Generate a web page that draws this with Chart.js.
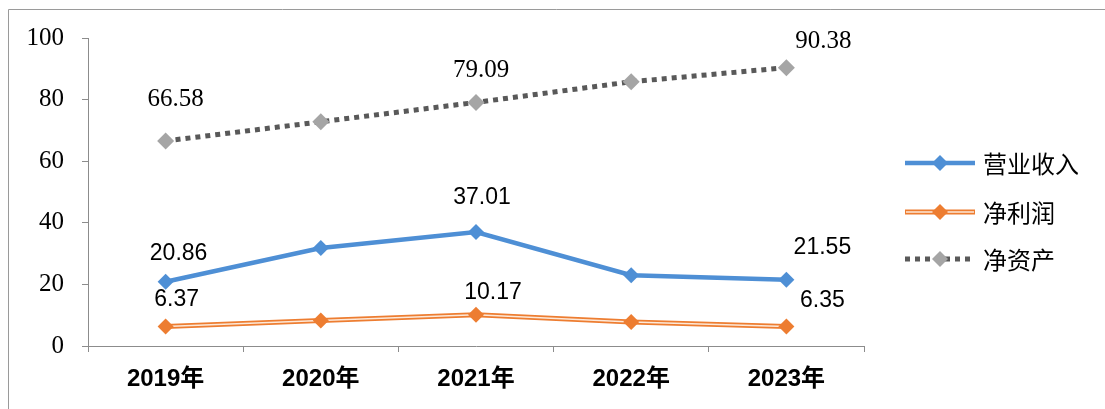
<!DOCTYPE html>
<html>
<head>
<meta charset="utf-8">
<script src="https://cdn.jsdelivr.net/npm/chart.js@4"></script>
<style>
  html, body { margin: 0; padding: 0; background: #fff; }
  canvas { display: block; }
</style>
</head>
<body>
<canvas id="finChart" width="1105" height="409"></canvas>
<script>
// categories and series
const years = ['2019年', '2020年', '2021年', '2022年', '2023年'];
const revenue = [20.86, 31.8, 37.01, 23.0, 21.55];   // 营业收入
const netProfit = [6.37, 8.3, 10.17, 7.8, 6.35];     // 净利润
const netAssets = [66.58, 72.8, 79.09, 85.8, 90.38]; // 净资产
const yTicks = [0, 20, 40, 60, 80, 100];
const labeledPoints = [0, 2, 4];

const BLUE = '#4e8fd5';
const ORANGE = '#ed7d31';
const GRAY_LINE = '#595959';
const GRAY_MARK = '#a5a5a5';
const SANS = '"Liberation Sans", "Noto Sans CJK SC", sans-serif';
const SERIF = '"Liberation Serif", "DejaVu Serif", serif';

// value labels, offsets are pixel nudges from each point
const valueLabels = [
    { data: netAssets, ds: 4, font: '25px ' + SERIF, offsets: [[10, -41], [0, 0], [5, -32], [0, 0], [37, -26]] },
    { data: revenue, ds: 0, font: '23px ' + SANS, offsets: [[13, -28], [0, 0], [6, -34], [0, 0], [36, -32]] },
    { data: netProfit, ds: 3, font: '23px ' + SANS, offsets: [[11, -27], [0, 0], [17, -22], [0, 0], [36, -26]] }
];

const legendItems = [
    { text: '营业收入', kind: 'blue', y: 163 },
    { text: '净利润', kind: 'orange', y: 212 },
    { text: '净资产', kind: 'gray', y: 259 }
];

function diamond(ctx, x, y, r, color) {
    ctx.beginPath();
    ctx.moveTo(x, y - r);
    ctx.lineTo(x + r, y);
    ctx.lineTo(x, y + r);
    ctx.lineTo(x - r, y);
    ctx.closePath();
    ctx.fillStyle = color;
    ctx.fill();
}

const decorPlugin = {
    id: 'decor',
    afterDatasetsDraw(chart) {
        const ctx = chart.ctx;
        ctx.save();
        ctx.fillStyle = '#000';
        ctx.textAlign = 'center';
        ctx.textBaseline = 'middle';
        valueLabels.forEach(function (lab) {
            const meta = chart.getDatasetMeta(lab.ds);
            labeledPoints.forEach(function (i) {
                const pt = meta.data[i];
                ctx.font = lab.font;
                ctx.fillText(lab.data[i].toFixed(2), pt.x + lab.offsets[i][0], pt.y + lab.offsets[i][1]);
            });
        });
        ctx.restore();
    },
    afterDraw(chart) {
        const ctx = chart.ctx;
        ctx.save();
        // frame
        ctx.strokeStyle = '#9a9a9a';
        ctx.lineWidth = 1;
        ctx.beginPath();
        ctx.moveTo(8.5, 409);
        ctx.lineTo(8.5, 9.5);
        ctx.lineTo(1105, 9.5);
        ctx.stroke();

        // legend
        const x0 = 905, x1 = 975, xm = 940;
        legendItems.forEach(function (it) {
            if (it.kind === 'blue') {
                ctx.strokeStyle = BLUE;
                ctx.lineWidth = 4.5;
                ctx.beginPath(); ctx.moveTo(x0, it.y); ctx.lineTo(x1, it.y); ctx.stroke();
                diamond(ctx, xm, it.y, 8, BLUE);
            } else if (it.kind === 'orange') {
                ctx.strokeStyle = ORANGE;
                ctx.lineWidth = 5;
                ctx.beginPath(); ctx.moveTo(x0, it.y); ctx.lineTo(x1, it.y); ctx.stroke();
                ctx.strokeStyle = '#fde9d9';
                ctx.lineWidth = 1.5;
                ctx.beginPath(); ctx.moveTo(x0 + 1, it.y); ctx.lineTo(x1 - 1, it.y); ctx.stroke();
                diamond(ctx, xm, it.y, 8, ORANGE);
            } else {
                ctx.strokeStyle = GRAY_LINE;
                ctx.lineWidth = 5;
                ctx.setLineDash([5, 5]);
                ctx.beginPath(); ctx.moveTo(x0, it.y); ctx.lineTo(x1, it.y); ctx.stroke();
                ctx.setLineDash([]);
                diamond(ctx, xm, it.y, 8, GRAY_MARK);
            }
            ctx.fillStyle = '#000';
            ctx.font = '24px "Noto Sans CJK SC", sans-serif';
            ctx.textAlign = 'left';
            ctx.textBaseline = 'middle';
            ctx.fillText(it.text, 983, it.y + 1);
        });
        ctx.restore();
    }
};

const ctx = document.getElementById('finChart').getContext('2d');
new Chart(ctx, {
    type: 'line',
    data: {
        labels: years,
        datasets: [
            {
                label: '营业收入',
                data: revenue,
                borderColor: BLUE,
                backgroundColor: BLUE,
                borderWidth: 4.5,
                pointStyle: 'rectRot',
                pointRadius: 8,
                pointBorderWidth: 0,
                tension: 0,
                order: 0
            },
            {
                label: '净利润',
                data: netProfit,
                borderColor: ORANGE,
                borderWidth: 5,
                pointRadius: 0,
                tension: 0,
                order: 3
            },
            {
                label: '净利润-inner',
                data: netProfit,
                borderColor: '#fde9d9',
                borderWidth: 1.5,
                pointRadius: 0,
                tension: 0,
                order: 2
            },
            {
                label: '净利润-marker',
                data: netProfit,
                showLine: false,
                backgroundColor: ORANGE,
                borderColor: ORANGE,
                pointStyle: 'rectRot',
                pointRadius: 8,
                pointBorderWidth: 0,
                order: 1
            },
            {
                label: '净资产',
                data: netAssets,
                borderColor: GRAY_LINE,
                backgroundColor: GRAY_MARK,
                borderWidth: 5,
                borderDash: [5, 5],
                borderCapStyle: 'butt',
                pointStyle: 'rectRot',
                pointRadius: 8.5,
                pointBorderWidth: 0,
                tension: 0,
                order: 4
            }
        ]
    },
    options: {
        responsive: false,
        animation: false,
        layout: { padding: { left: 8, right: 241, top: 38, bottom: 0 } },
        plugins: {
            legend: { display: false },
            tooltip: { enabled: false },
            title: { display: false }
        },
        scales: {
            x: {
                offset: true,
                afterFit: function (scale) { scale.height = 63; },
                grid: { drawOnChartArea: false, drawTicks: true, tickLength: 6, color: '#8c8c8c', offset: true },
                border: { color: '#8c8c8c', width: 1 },
                ticks: {
                    color: '#000',
                    padding: 13,
                    maxRotation: 0,
                    font: { family: SANS, size: 24, weight: 'bold' }
                }
            },
            y: {
                min: 0,
                max: 100,
                afterFit: function (scale) { scale.width = 80; },
                afterBuildTicks: function (scale) { scale.ticks = yTicks.map(function (v) { return { value: v }; }); },
                grid: { drawOnChartArea: false, drawTicks: true, tickLength: 6, color: '#8c8c8c' },
                border: { color: '#8c8c8c', width: 1 },
                ticks: {
                    color: '#000',
                    padding: 18,
                    font: { family: SERIF, size: 25 }
                }
            }
        }
    },
    plugins: [decorPlugin]
});
</script>
</body>
</html>
